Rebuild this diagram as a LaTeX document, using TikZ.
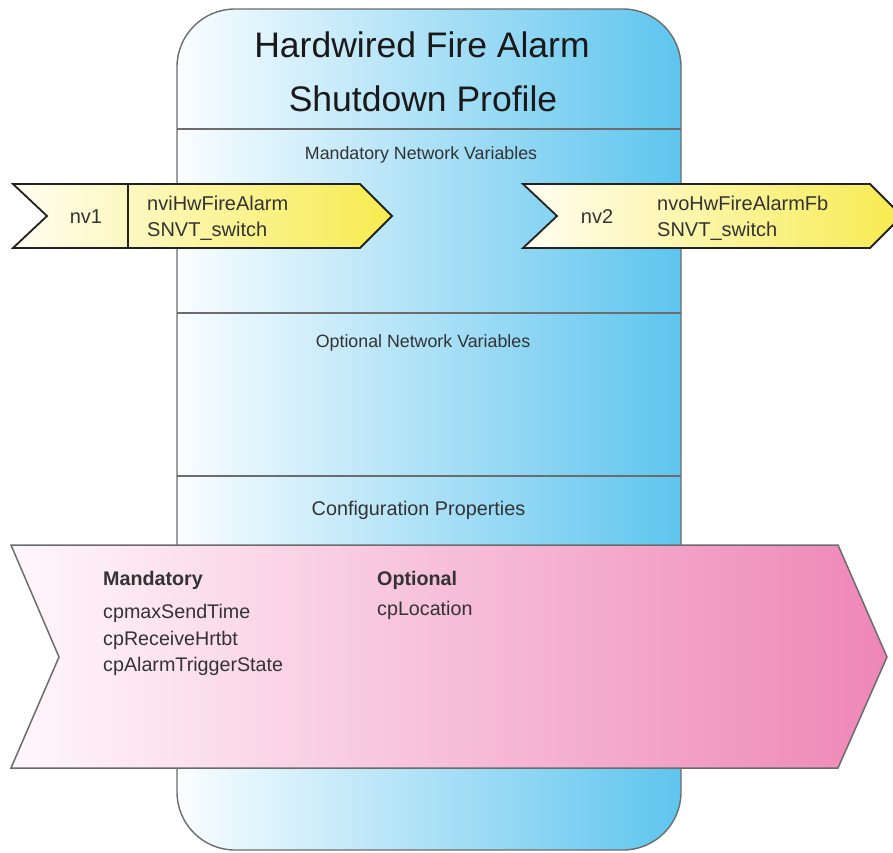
\documentclass[tikz,border=0pt]{standalone}
\usepackage{fontspec}
\setmainfont{Liberation Sans}
\definecolor{blueL}{HTML}{FAFDFF}
\definecolor{blueR}{HTML}{5EC5EE}
\definecolor{pinkL}{HTML}{FFF7FB}
\definecolor{pinkR}{HTML}{EE86B7}
\definecolor{yelL}{HTML}{FFFEF2}
\definecolor{yelR}{HTML}{F7EB4F}
\definecolor{txt}{HTML}{333333}
\definecolor{edgegray}{HTML}{6C6C6C}
\definecolor{yedge}{HTML}{222222}
\begin{document}
\begin{tikzpicture}[x=1pt,y=-1pt,
  lbl/.style={inner sep=0pt, anchor=base, text=txt},
  lblw/.style={inner sep=0pt, anchor=base west, text=txt},
  hdr/.style={font=\fontsize{17.8}{21}\selectfont},
  nvfont/.style={font=\fontsize{20}{24}\selectfont},
  cpfont/.style={font=\fontsize{19.7}{24}\selectfont},
  divider/.style={draw=edgegray, line width=1.5pt},
  yarrow/.style={draw=yedge, line width=1.8pt, line join=miter, left color=yelL, right color=yelR},
  parrow/.style={draw=edgegray, line width=1.5pt, line join=miter, left color=pinkL, right color=pinkR}]
\useasboundingbox (0,0) rectangle (893,852);
\fill[white] (0,0) rectangle (893,852);
% profile body
\draw[draw=edgegray, line width=1.4pt, rounded corners=58pt, left color=blueL, right color=blueR] (177,9) rectangle (681,850);
\coordinate (d1l) at (177,129); \coordinate (d1r) at (681,129);
\coordinate (d2l) at (177,313); \coordinate (d2r) at (681,313);
\coordinate (d3l) at (177,476); \coordinate (d3r) at (681,476);
\draw[divider] (d1l) -- (d1r);
\draw[divider] (d2l) -- (d2r);
\draw[divider] (d3l) -- (d3r);
% title
\node[lbl, text=black!90, font=\fontsize{35.5}{43}\selectfont] (title1) at (422,57) {Hardwired Fire Alarm};
\node[lbl, text=black!90, font=\fontsize{35.5}{43}\selectfont] (title2) at (423,111) {Shutdown Profile};
% section headers
\node[lbl, hdr] (mnv) at (421,159) {Mandatory Network Variables};
\node[lbl, hdr] (onv) at (423,347) {Optional Network Variables};
\node[lbl, font=\fontsize{19.8}{24}\selectfont] (cfg) at (418.5,515) {Configuration Properties};
% nv1
\draw[yarrow] (13,184) -- (360,184) -- (392,216) -- (360,248) -- (13,248) -- (47,216) -- cycle;
\coordinate (nv1t) at (128,184); \coordinate (nv1b) at (128,248);
\draw[draw=yedge, line width=1.2pt] (nv1t) -- (nv1b);
\node[lbl, nvfont] (nv1) at (86,223) {nv1};
\node[lblw, nvfont] (nv1name) at (147,210) {nviHwFireAlarm};
\node[lblw, nvfont] (nv1type) at (147,236) {SNVT\_switch};
% nv2
\draw[yarrow] (523,184) -- (870,184) -- (902,216) -- (870,248) -- (523,248) -- (557,216) -- cycle;
\node[lbl, nvfont] (nv2) at (597,223) {nv2};
\node[lblw, nvfont] (nv2name) at (657,210) {nvoHwFireAlarmFb};
\node[lblw, nvfont] (nv2type) at (657,236) {SNVT\_switch};
% configuration properties
\draw[parrow] (11,545) -- (838,545) -- (887,657) -- (838,768) -- (11,768) -- (59,657) -- cycle;
\node[lblw, cpfont, font=\bfseries\fontsize{19.7}{24}\selectfont] (mand) at (103,585.5) {Mandatory};
\node[lblw, cpfont] (cp1) at (103,618.5) {cpmaxSendTime};
\node[lblw, cpfont] (cp2) at (103,645.5) {cpReceiveHrtbt};
\node[lblw, cpfont] (cp3) at (103,671.5) {cpAlarmTriggerState};
\node[lblw, cpfont, font=\bfseries\fontsize{19.7}{24}\selectfont] (opt) at (377,585.5) {Optional};
\node[lblw, cpfont] (cp4) at (377,615.5) {cpLocation};
\end{tikzpicture}
\end{document}
